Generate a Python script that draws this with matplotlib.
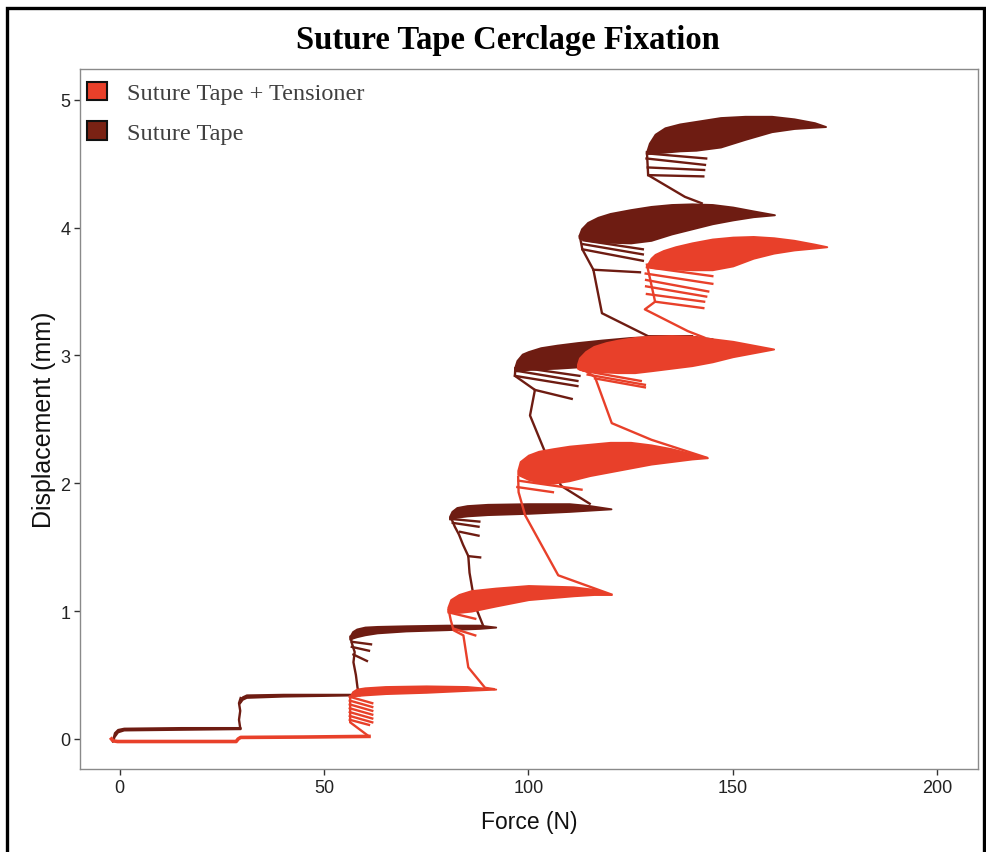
import matplotlib
matplotlib.use("Agg")
import matplotlib.pyplot as plt
from matplotlib.patches import Patch, Rectangle

# ---------------- data (Force N, Displacement mm) ----------------
# Suture Tape + Tensioner (orange)
tt_step1_F = [-2.0, -1.6, -0.5, 28.5, 29.0, 29.6, 45.0, 61.0]
tt_step1_d = [0.00, -0.015, -0.02, -0.02, 0.0, 0.012, 0.015, 0.02]

tt_b2_F = [56.5, 57.0, 58.0, 60.0, 65.0, 75.0, 85.0, 92.0]
tt_b2_top = [0.34, 0.37, 0.39, 0.40, 0.41, 0.415, 0.41, 0.39]
tt_b2_bot = [0.33, 0.335, 0.34, 0.345, 0.355, 0.365, 0.38, 0.39]

tt_b3_F = [80.3, 81.0, 83.0, 86.0, 92.0, 100.0, 111.0, 116.0, 120.3]
tt_b3_top = [1.03, 1.09, 1.13, 1.16, 1.18, 1.20, 1.19, 1.17, 1.13]
tt_b3_bot = [1.00, 0.99, 0.99, 1.00, 1.04, 1.09, 1.12, 1.13, 1.13]

tt_b4_F = [97.4, 98.0, 100.0, 102.5, 106.0, 110.0, 115.0, 120.0, 125.0, 130.0, 135.0, 140.0, 143.8]
tt_b4_top = [2.10, 2.17, 2.22, 2.25, 2.27, 2.29, 2.305, 2.32, 2.32, 2.30, 2.27, 2.23, 2.20]
tt_b4_bot = [2.07, 2.06, 2.03, 2.01, 2.00, 2.02, 2.06, 2.09, 2.12, 2.15, 2.17, 2.19, 2.20]

tt_b5_F = [112.0, 112.5, 114.0, 116.0, 119.0, 122.0, 126.0, 130.0, 135.0, 140.0, 145.0, 150.0, 155.0, 160.0]
tt_b5_top = [2.93, 2.98, 3.03, 3.07, 3.10, 3.12, 3.14, 3.15, 3.155, 3.15, 3.13, 3.11, 3.08, 3.05]
tt_b5_bot = [2.90, 2.89, 2.88, 2.875, 2.87, 2.865, 2.865, 2.88, 2.90, 2.92, 2.95, 2.99, 3.02, 3.05]

tt_b6_F = [129.3, 130.0, 131.0, 133.0, 136.0, 140.0, 145.0, 150.0, 155.0, 160.0, 165.0, 170.0, 173.0]
tt_b6_top = [3.72, 3.76, 3.79, 3.82, 3.85, 3.88, 3.91, 3.925, 3.93, 3.92, 3.90, 3.87, 3.85]
tt_b6_bot = [3.70, 3.69, 3.685, 3.68, 3.675, 3.67, 3.67, 3.70, 3.76, 3.80, 3.825, 3.84, 3.85]

tt_link2_F = [61.0, 56.4, 56.4]
tt_link2_d = [0.02, 0.13, 0.33]
tt_link3_F = [91.5, 89.4, 85.3, 84.1, 81.7, 81.0, 80.5]
tt_link3_d = [0.39, 0.40, 0.56, 0.81, 0.85, 0.93, 1.01]
tt_link4_F = [120.3, 107.3, 99.2, 97.6, 97.5]
tt_link4_d = [1.13, 1.28, 1.75, 1.93, 2.05]
tt_link5_F = [143.6, 130.1, 120.4, 116.3, 113.0]
tt_link5_d = [2.20, 2.34, 2.47, 2.83, 2.90]
tt_link6_F = [143.0, 139.0, 128.5, 131.0, 129.0]
tt_link6_d = [3.14, 3.19, 3.36, 3.42, 3.71]

# early cycles: valley (F, d) -> peak (F, d)
tt_cyc_F0 = [56.3, 56.3, 56.3, 56.3, 56.3, 56.3, 56.3,
             80.5, 82.0, 97.6, 97.3,
             113.5, 114.5, 116.3,
             129.0, 128.7, 128.8, 128.8, 129.0, 131.0]
tt_cyc_d0 = [0.33, 0.30, 0.27, 0.24, 0.21, 0.18, 0.15,
             0.99, 0.86, 2.02, 1.97,
             2.88, 2.85, 2.82,
             3.69, 3.64, 3.59, 3.54, 3.48, 3.42]
tt_cyc_F1 = [61.8, 61.8, 61.8, 61.8, 61.8, 61.8, 61.0,
             87.0, 87.0, 113.0, 106.0,
             127.5, 128.5, 128.5,
             145.0, 145.0, 144.0, 143.5, 143.0, 142.8]
tt_cyc_d1 = [0.28, 0.25, 0.22, 0.19, 0.16, 0.13, 0.11,
             0.94, 0.81, 1.95, 1.93,
             2.80, 2.77, 2.75,
             3.62, 3.56, 3.50, 3.46, 3.42, 3.37]

# Suture Tape (dark)
st_b1_F = [-1.8, -1.3, -0.5, 1.0, 15.0, 29.5]
st_b1_top = [-0.01, 0.05, 0.075, 0.085, 0.09, 0.09]
st_b1_bot = [-0.02, 0.02, 0.055, 0.07, 0.075, 0.08]

st_b2_F = [29.3, 30.0, 31.0, 40.0, 50.0, 58.8]
st_b2_top = [0.29, 0.33, 0.345, 0.35, 0.35, 0.35]
st_b2_bot = [0.28, 0.31, 0.325, 0.335, 0.34, 0.345]

st_b3_F = [56.3, 57.0, 58.0, 60.0, 63.0, 70.0, 80.0, 88.0, 92.0]
st_b3_top = [0.80, 0.84, 0.86, 0.875, 0.88, 0.885, 0.89, 0.89, 0.875]
st_b3_bot = [0.78, 0.79, 0.80, 0.815, 0.83, 0.845, 0.855, 0.865, 0.875]

st_b4_F = [80.7, 81.3, 82.5, 85.0, 90.0, 100.0, 110.0, 115.0, 120.2]
st_b4_top = [1.74, 1.78, 1.81, 1.825, 1.835, 1.84, 1.84, 1.825, 1.80]
st_b4_bot = [1.72, 1.725, 1.735, 1.745, 1.755, 1.765, 1.78, 1.79, 1.80]

st_b5_F = [96.6, 97.2, 98.5, 100.0, 103.0, 107.0, 112.0, 118.0, 125.0, 132.0, 140.0, 145.0]
st_b5_top = [2.90, 2.96, 3.01, 3.03, 3.06, 3.08, 3.10, 3.12, 3.14, 3.15, 3.15, 3.13]
st_b5_bot = [2.88, 2.88, 2.885, 2.89, 2.895, 2.90, 2.91, 2.94, 2.99, 3.05, 3.10, 3.13]

st_b6_F = [112.4, 113.0, 114.5, 117.0, 120.0, 125.0, 130.0, 135.0, 140.0, 145.0, 150.0, 155.0, 160.2]
st_b6_top = [3.94, 3.99, 4.04, 4.08, 4.11, 4.14, 4.165, 4.18, 4.185, 4.18, 4.16, 4.13, 4.10]
st_b6_bot = [3.92, 3.91, 3.90, 3.89, 3.885, 3.88, 3.90, 3.95, 3.99, 4.03, 4.06, 4.085, 4.10]

st_b7_F = [129.0, 129.6, 131.0, 133.4, 137.0, 141.0, 147.0, 153.0, 159.5, 165.0, 170.0, 172.7]
st_b7_top = [4.60, 4.66, 4.73, 4.78, 4.81, 4.83, 4.86, 4.87, 4.87, 4.85, 4.82, 4.79]
st_b7_bot = [4.58, 4.58, 4.585, 4.59, 4.60, 4.605, 4.63, 4.69, 4.75, 4.775, 4.785, 4.79]

st_link2_F = [29.5, 29.2, 29.5, 29.2, 29.6]
st_link2_d = [0.085, 0.15, 0.22, 0.28, 0.32]
st_link3_F = [58.8, 58.2, 57.8, 57.2, 57.5, 56.8, 56.5]
st_link3_d = [0.345, 0.40, 0.50, 0.60, 0.68, 0.75, 0.80]
st_link4_F = [89.0, 87.5, 86.3, 85.6, 85.3, 84.0, 83.0, 82.0, 81.2]
st_link4_d = [0.88, 1.00, 1.17, 1.30, 1.43, 1.52, 1.60, 1.66, 1.72]
st_link5_F = [115.0, 108.0, 104.0, 100.4, 101.6, 96.7, 96.8]
st_link5_d = [1.84, 1.98, 2.25, 2.53, 2.73, 2.84, 2.90]
st_link6_F = [140.0, 129.3, 118.0, 115.9, 113.2, 112.6]
st_link6_d = [3.15, 3.15, 3.33, 3.67, 3.83, 3.93]
st_link7_F = [142.4, 138.3, 129.3, 129.0]
st_link7_d = [4.19, 4.24, 4.41, 4.59]

st_cyc_F0 = [57.2, 56.8, 56.8,
             85.3, 83.3, 81.5, 81.3,
             101.6, 96.7, 97.0, 97.2,
             115.9, 113.2, 113.4, 113.5,
             129.3, 129.2, 128.9, 129.0]
st_cyc_d0 = [0.66, 0.72, 0.76,
             1.43, 1.62, 1.69, 1.72,
             2.73, 2.84, 2.88, 2.91,
             3.67, 3.83, 3.87, 3.90,
             4.41, 4.47, 4.54, 4.58]
st_cyc_F1 = [60.5, 61.0, 61.5,
             88.2, 87.8, 87.8, 88.0,
             110.6, 112.0, 112.0, 112.5,
             127.3, 128.0, 128.0, 128.0,
             142.8, 143.0, 143.2, 143.5]
st_cyc_d1 = [0.61, 0.69, 0.74,
             1.42, 1.59, 1.66, 1.70,
             2.66, 2.76, 2.80, 2.84,
             3.65, 3.74, 3.79, 3.83,
             4.40, 4.45, 4.49, 4.54]

series_labels = ["Suture Tape + Tensioner", "Suture Tape"]
x_ticks = [0, 50, 100, 150, 200]
y_ticks = [0, 1, 2, 3, 4, 5]

c_tt = "#E8402A"
c_st = "#6E1C12"

# ---------------- figure ----------------
W, H = 987, 853
fig = plt.figure(figsize=(W / 100, H / 100), dpi=100)
ax = fig.add_axes([80 / W, 1 - 770 / H, 898 / W, 700 / H])

def band(F, top, bot, color, z):
    ax.fill_between(F, bot, top, facecolor=color, edgecolor=color, linewidth=1.4, zorder=z)

def link(F, d, color, z):
    ax.plot(F, d, color=color, lw=1.7, solid_joinstyle="round", zorder=z)

# dark series (below)
for F, t, b in [(st_b1_F, st_b1_top, st_b1_bot), (st_b2_F, st_b2_top, st_b2_bot),
                (st_b3_F, st_b3_top, st_b3_bot), (st_b4_F, st_b4_top, st_b4_bot),
                (st_b5_F, st_b5_top, st_b5_bot), (st_b6_F, st_b6_top, st_b6_bot),
                (st_b7_F, st_b7_top, st_b7_bot)]:
    band(F, t, b, c_st, 2)
for F, d in [(st_link2_F, st_link2_d), (st_link3_F, st_link3_d), (st_link4_F, st_link4_d),
             (st_link5_F, st_link5_d), (st_link6_F, st_link6_d), (st_link7_F, st_link7_d)]:
    link(F, d, c_st, 2)
for f0, d0, f1, d1 in zip(st_cyc_F0, st_cyc_d0, st_cyc_F1, st_cyc_d1):
    link([f0, f1], [d0, d1], c_st, 2)

# orange series (on top)
ax.plot(tt_step1_F, tt_step1_d, color=c_tt, lw=2.6, zorder=3)
for F, t, b in [(tt_b2_F, tt_b2_top, tt_b2_bot), (tt_b3_F, tt_b3_top, tt_b3_bot),
                (tt_b4_F, tt_b4_top, tt_b4_bot), (tt_b5_F, tt_b5_top, tt_b5_bot),
                (tt_b6_F, tt_b6_top, tt_b6_bot)]:
    band(F, t, b, c_tt, 3)
for F, d in [(tt_link2_F, tt_link2_d), (tt_link3_F, tt_link3_d), (tt_link4_F, tt_link4_d),
             (tt_link5_F, tt_link5_d), (tt_link6_F, tt_link6_d)]:
    link(F, d, c_tt, 3)
for f0, d0, f1, d1 in zip(tt_cyc_F0, tt_cyc_d0, tt_cyc_F1, tt_cyc_d1):
    link([f0, f1], [d0, d1], c_tt, 3)

ax.set_xlim(-9.7, 210.0)
ax.set_ylim(-0.235, 5.24)
ax.set_xticks(x_ticks)
ax.set_yticks(y_ticks)
ax.set_xticklabels([str(v) for v in x_ticks])
ax.set_yticklabels([str(v) for v in y_ticks])
for s in ax.spines.values():
    s.set_color("#8a8a8a")
    s.set_linewidth(1.0)
ax.tick_params(axis="both", colors="#333333", length=4, width=1.0, labelsize=13, pad=3)
for lab in ax.get_xticklabels() + ax.get_yticklabels():
    lab.set_fontfamily("Liberation Sans")
    lab.set_color("#222222")

ax.set_xlabel("Force (N)", fontsize=16.5, family="Liberation Sans", color="#111111")
ax.set_ylabel("Displacement (mm)", fontsize=18, family="Liberation Sans", color="#111111")
ax.xaxis.set_label_coords(0.5, (770 - 823) / 700)
ax.xaxis.label.set_verticalalignment("center")
ax.yaxis.set_label_coords((44 - 80) / 898, 0.5)
ax.yaxis.label.set_verticalalignment("center")

handles = [Patch(facecolor=c_tt, edgecolor="#111111", linewidth=1.5),
           Patch(facecolor="#7A2214", edgecolor="#111111", linewidth=1.5)]
leg = ax.legend(handles, series_labels, loc="upper left",
                bbox_to_anchor=(-2.5 / 898, 1 - 3 / 700), frameon=False,
                prop={"family": "Liberation Serif", "size": 17.5},
                handlelength=0.82, handleheight=0.8, handletextpad=0.82,
                labelspacing=0.68, borderaxespad=0.2, borderpad=0.2)
for t in leg.get_texts():
    t.set_color("#404040")

fig.text(508 / W, 1 - 41 / H, "Suture Tape Cerclage Fixation", ha="center", va="center",
         fontsize=23.5, fontweight="bold", family="Liberation Serif", color="black")

fig.add_artist(Rectangle((7.5 / W, -0.05), (984 - 7.5) / W, 1.05 - 8.5 / H,
                         transform=fig.transFigure, fill=False,
                         edgecolor="black", linewidth=2.4))

fig.savefig("out.png", dpi=100)
